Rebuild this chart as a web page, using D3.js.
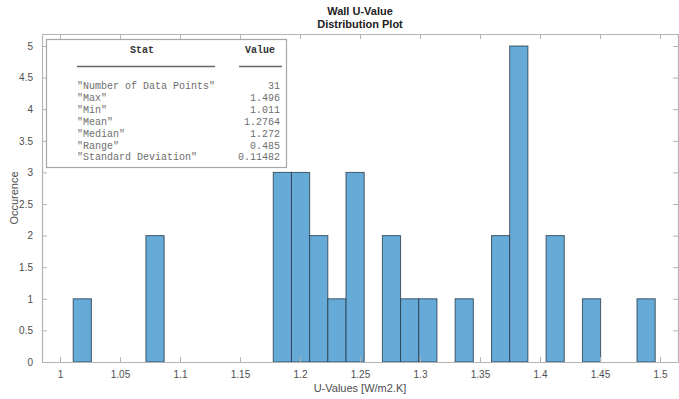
<!DOCTYPE html>
<html>
<head>
<meta charset="utf-8">
<script src="https://cdn.jsdelivr.net/npm/d3@7"></script>
<style>
  html, body { margin: 0; padding: 0; background: #fff; }
  svg { display: block; }
</style>
</head>
<body>
<svg id="chart" width="679" height="399"></svg>
<script>
// ---- data ----
const binStart = 1.011;
const binWidth = 0.01515625;
const counts = [1,0,0,0,2,0,0,0,0,0,0,3,3,2,1,3,0,2,1,1,0,1,0,2,5,0,2,0,1,0,0,1];
const xTicks = [1, 1.05, 1.1, 1.15, 1.2, 1.25, 1.3, 1.35, 1.4, 1.45, 1.5];
const yTicks = [0, 0.5, 1, 1.5, 2, 2.5, 3, 3.5, 4, 4.5, 5];
const statNames = ['"Number of Data Points"', '"Max"', '"Min"', '"Mean"', '"Median"', '"Range"', '"Standard Deviation"'];
const statValues = ['31', '1.496', '1.011', '1.2764', '1.272', '0.485', '0.11482'];
const titleLines = ["Wall U-Value", "Distribution Plot"];

(function () {
const bins = counts.map((c, i) => ({ x0: binStart + i * binWidth, x1: binStart + (i + 1) * binWidth, count: c }));

// ---- layout ----
const svg = d3.select("#chart");
const pL = 42, pR = 678, pT = 34, pB = 362;
const x = d3.scaleLinear().domain([0.985, 1.515]).range([pL, pR]);
const y = d3.scaleLinear().domain([0, 5.19]).range([pB, pT]);
const axisColor = "#b3b3b3";
const labelColor = "#4d4d4d";
const sans = "'Liberation Sans', Arial, sans-serif";
const mono = "'Liberation Mono', 'Courier New', monospace";

// bars
svg.append("g").selectAll("rect")
  .data(bins.filter(d => d.count > 0))
  .join("rect")
  .attr("x", d => x(d.x0))
  .attr("y", d => y(d.count))
  .attr("width", d => x(d.x1) - x(d.x0))
  .attr("height", d => y(0) - y(d.count))
  .attr("fill", "#66aad7")
  .attr("stroke", "#27394a")
  .attr("stroke-opacity", 0.8)
  .attr("stroke-width", 1);

// axes (box with inward ticks on all sides)
function styleAxis(g) {
  g.selectAll("path").attr("stroke", axisColor).attr("stroke-width", 1.2);
  g.selectAll("line").attr("stroke", axisColor);
  g.selectAll("text").attr("fill", labelColor).style("font-family", sans).style("font-size", "10px");
}
svg.append("g").attr("transform", `translate(0,${pB})`)
  .call(d3.axisBottom(x).tickValues(xTicks).tickSizeInner(-5).tickSizeOuter(0).tickPadding(9).tickFormat(d3.format("")))
  .call(styleAxis);
svg.append("g").attr("transform", `translate(0,${pT})`)
  .call(d3.axisTop(x).tickValues(xTicks).tickSizeInner(-5).tickSizeOuter(0).tickFormat(""))
  .call(styleAxis);
svg.append("g").attr("transform", `translate(${pL},0)`)
  .call(d3.axisLeft(y).tickValues(yTicks).tickSizeInner(-5).tickSizeOuter(0).tickPadding(9).tickFormat(d3.format("")))
  .call(styleAxis);
svg.append("g").attr("transform", `translate(${pR},0)`)
  .call(d3.axisRight(y).tickValues(yTicks).tickSizeInner(-5).tickSizeOuter(0).tickFormat(""))
  .call(styleAxis);

// titles
svg.append("g").selectAll("text").data(titleLines).join("text")
  .attr("x", (pL + pR) / 2)
  .attr("y", (d, i) => 15 + i * 13)
  .attr("text-anchor", "middle")
  .style("font-family", sans).style("font-size", "11px").style("font-weight", "bold")
  .attr("fill", "#222")
  .text(d => d);

// axis labels
svg.append("text")
  .attr("x", (pL + pR) / 2).attr("y", 392)
  .attr("text-anchor", "middle")
  .style("font-family", sans).style("font-size", "11px")
  .attr("fill", labelColor)
  .text("U-Values [W/m2.K]");
svg.append("text")
  .attr("transform", `translate(18,${(pT + pB) / 2}) rotate(-90)`)
  .attr("text-anchor", "middle")
  .style("font-family", sans).style("font-size", "11px")
  .attr("fill", labelColor)
  .text("Occurence");

// stats table
const tbl = svg.append("g");
tbl.append("rect")
  .attr("x", 46.5).attr("y", 39.5).attr("width", 240).attr("height", 128)
  .attr("fill", "#fff").attr("stroke", "#a6a6a6").attr("stroke-width", 1.2);
tbl.append("text").attr("x", 142).attr("y", 53).attr("text-anchor", "middle")
  .style("font-family", mono).style("font-size", "10px").style("font-weight", "bold")
  .attr("fill", "#333").text("Stat");
tbl.append("text").attr("x", 260).attr("y", 53).attr("text-anchor", "middle")
  .style("font-family", mono).style("font-size", "10px").style("font-weight", "bold")
  .attr("fill", "#333").text("Value");
tbl.append("line").attr("x1", 77).attr("x2", 215).attr("y1", 66.5).attr("y2", 66.5)
  .attr("stroke", "#666").attr("stroke-width", 1.6);
tbl.append("line").attr("x1", 239).attr("x2", 282).attr("y1", 66.5).attr("y2", 66.5)
  .attr("stroke", "#666").attr("stroke-width", 1.6);
tbl.append("g").selectAll("text").data(statNames).join("text")
  .attr("x", 77).attr("y", (d, i) => 89 + i * 11.9)
  .style("font-family", mono).style("font-size", "10px")
  .attr("fill", "#6e6e6e").text(d => d);
tbl.append("g").selectAll("text").data(statValues).join("text")
  .attr("x", 280).attr("y", (d, i) => 89 + i * 11.9)
  .attr("text-anchor", "end")
  .style("font-family", mono).style("font-size", "10px")
  .attr("fill", "#6e6e6e").text(d => d);
})();
</script>
</body>
</html>
